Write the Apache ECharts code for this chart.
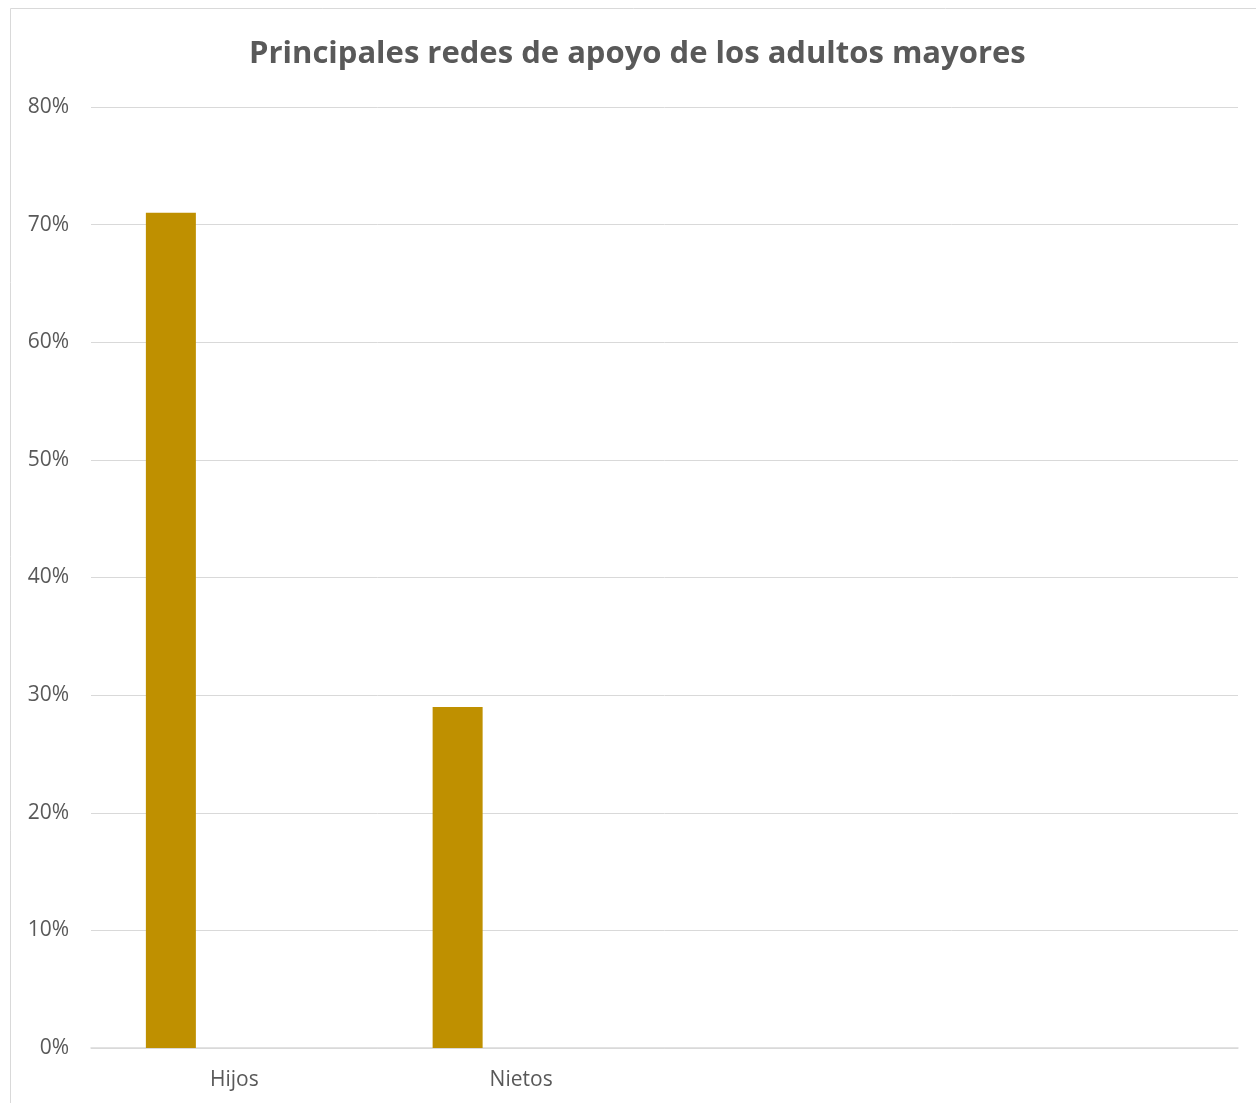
<!DOCTYPE html>
<html>
<head>
<meta charset="utf-8">
<script src="https://cdn.jsdelivr.net/npm/echarts@6/dist/echarts.min.js"></script>
<style>
  html, body { margin: 0; padding: 0; background: #fff; }
  #chart { width: 1256px; height: 1103px; }
</style>
</head>
<body>
<div id="chart"></div>
<script>
// categorias y valores (%)
const categorias = ['Hijos', 'Nietos', '', '']
const serie1 = [71, 29, null, null]
const serie2 = [null, null, null, null]
const serie3 = [null, null, null, null]
const titulo = 'Principales redes de apoyo de los adultos mayores'

const myEcharts = echarts.init(document.getElementById('chart'))
const option = {
  animation: false,
  title: {
    text: titulo,
    left: 244,
    top: 34,
    textStyle: {
      fontFamily: 'Open Sans',
      fontWeight: 'bold',
      fontSize: 31,
      color: '#595959'
    }
  },
  // borde del area del grafico
  graphic: [{
    type: 'rect',
    shape: { x: 10.5, y: 8.5, width: 1400, height: 1200 },
    style: { fill: 'none', stroke: '#d9d9d9', lineWidth: 1 },
    silent: true
  }],
  grid: {
    left: 91,
    right: 18,
    top: 107,
    bottom: 55
  },
  xAxis: {
    type: 'category',
    data: categorias,
    axisLine: { lineStyle: { color: '#d9d9d9', width: 1.5 } },
    axisTick: { show: false },
    axisLabel: {
      color: '#595959',
      fontFamily: 'Open Sans',
      fontSize: 21,
      margin: 22
    }
  },
  yAxis: {
    type: 'value',
    min: 0,
    max: 80,
    interval: 10,
    axisLine: { show: false },
    axisTick: { show: false },
    splitLine: { lineStyle: { color: '#d9d9d9', width: 1 } },
    axisLabel: {
      color: '#595959',
      fontFamily: 'Open Sans',
      fontSize: 21,
      margin: 22,
      formatter: '{value}%'
    }
  },
  series: [
    { name: 'Serie 1', type: 'bar', data: serie1, barWidth: 50, barGap: '27%', itemStyle: { color: '#BF9000' } },
    { name: 'Serie 2', type: 'bar', data: serie2, barWidth: 50, barGap: '27%' },
    { name: 'Serie 3', type: 'bar', data: serie3, barWidth: 50, barGap: '27%' }
  ]
}
myEcharts.setOption(option)
</script>
</body>
</html>
